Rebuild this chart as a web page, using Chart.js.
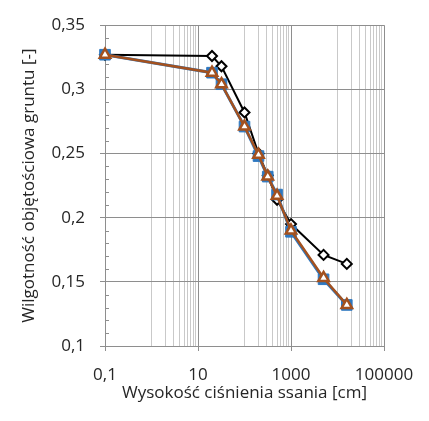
<!DOCTYPE html>
<html>
<head>
<meta charset="utf-8">
<script src="https://cdn.jsdelivr.net/npm/chart.js@4"></script>
<style>
html,body{margin:0;padding:0;background:#fff;}
#wrap{width:429px;height:421px;}
</style>
</head>
<body>
<div id="wrap"><canvas id="c" width="429" height="421"></canvas></div>
<script>
// Data
const pressureHeads = [0.1, 20, 32, 100, 200, 316, 501, 1000, 5012, 15849];
const blackSeries  = [0.327, 0.326, 0.318, 0.282, 0.250, 0.233, 0.214, 0.195, 0.171, 0.164];
const blueSeries   = [0.327, 0.313, 0.304, 0.271, 0.248, 0.232, 0.218, 0.189, 0.152, 0.132];
const orangeSeries = [0.327, 0.313, 0.304, 0.271, 0.249, 0.232, 0.217, 0.190, 0.153, 0.132];
const xLabelValues = [0.1, 10, 1000, 100000];
const xGridValues = [0.1,1,2,3,4,5,6,7,8,9,10,100,200,300,400,500,600,700,800,900,1000,10000,20000,30000,40000,50000,60000,70000,80000,90000,100000];
const yTickValues = [0.1, 0.15, 0.2, 0.25, 0.3, 0.35];
const yMinorValues = [0.11,0.12,0.13,0.14,0.16,0.17,0.18,0.19,0.21,0.22,0.23,0.24,0.26,0.27,0.28,0.29,0.31,0.32,0.33,0.34];

const FONT = '"Open Sans", Lato, sans-serif';
const MAJOR = '#8e8e8e';
const MINOR = '#c9c9c9';

function pts(ys){ return pressureHeads.map((x,i)=>({x:x, y:ys[i]})); }
function fmt(v){ return String(v).replace('.', ','); }
function isMajorX(v){ return xLabelValues.some(m => Math.abs(Math.log10(v) - Math.log10(m)) < 1e-6); }

const minorTicks = {
  id: 'minorTicks',
  beforeDatasetsDraw(chart){
    const ctx = chart.ctx, y = chart.scales.y, area = chart.chartArea;
    ctx.save();
    ctx.strokeStyle = MAJOR; ctx.lineWidth = 1;
    yMinorValues.forEach(v => {
      const py = Math.round(y.getPixelForValue(v)) + 0.5;
      ctx.beginPath(); ctx.moveTo(area.left, py); ctx.lineTo(area.left + 4, py); ctx.stroke();
    });
    ctx.restore();
  }
};

new Chart(document.getElementById('c'), {
  type: 'scatter',
  data: {
    datasets: [
      { data: pts(orangeSeries), showLine: true, borderColor: '#A3511F', borderWidth: 2.5,
        pointStyle: 'triangle', pointRadius: 6, pointBackgroundColor: '#ffffff', pointBorderColor: '#A3511F', pointBorderWidth: 2.5, clip: false, order: 1 },
      { data: pts(blueSeries), showLine: true, borderColor: '#2E78C0', borderWidth: 3,
        pointStyle: 'rect', pointRadius: 7.5, pointBackgroundColor: '#2E78C0', pointBorderColor: '#2E78C0', pointBorderWidth: 1, clip: false, order: 2 },
      { data: pts(blackSeries), showLine: true, borderColor: '#000000', borderWidth: 2,
        pointStyle: 'rectRot', pointRadius: 5, pointBackgroundColor: '#ffffff', pointBorderColor: '#000000', pointBorderWidth: 2, clip: false, order: 3 }
    ]
  },
  plugins: [minorTicks],
  options: {
    responsive: false,
    animation: false,
    devicePixelRatio: 1,
    layout: { padding: { left: 0, right: 45, top: 14, bottom: 18 } },
    plugins: { legend: { display: false }, tooltip: { enabled: false } },
    scales: {
      x: {
        type: 'logarithmic', min: 0.1, max: 100000,
        afterBuildTicks(scale){ scale.ticks = xGridValues.map(v => ({value: v, major: isMajorX(v)})); },
        afterFit(scale){ scale.height = 57; },
        border: { color: MAJOR, width: 1 },
        grid: {
          color: ctx => (ctx.tick && isMajorX(ctx.tick.value)) ? MAJOR : MINOR,
          tickColor: ctx => (ctx.tick && isMajorX(ctx.tick.value)) ? MAJOR : 'rgba(0,0,0,0)',
          tickLength: 5, lineWidth: 1
        },
        ticks: {
          autoSkip: false, maxRotation: 0, padding: 14,
          color: '#262626', font: { family: FONT, size: 17 },
          callback: (v) => isMajorX(v) ? fmt(v) : ''
        },
        title: { display: true, text: 'Wysokość ciśnienia ssania [cm]', color: '#262626',
          font: { family: FONT, size: 17 }, padding: { top: 0, bottom: 0 } }
      },
      y: {
        type: 'linear', min: 0.1, max: 0.35,
        afterBuildTicks(scale){ scale.ticks = yTickValues.map(v => ({value: v})); },
        afterFit(scale){ scale.width = 105; },
        border: { color: MAJOR, width: 1 },
        grid: { color: MAJOR, tickColor: MAJOR, tickLength: 5, lineWidth: 1 },
        ticks: { padding: 15, color: '#262626', font: { family: FONT, size: 17 },
          callback: v => fmt(Math.round(v*100)/100) },
        title: { display: true, text: 'Wilgotność objętościowa gruntu [-]', color: '#262626',
          font: { family: FONT, size: 17 }, padding: { top: 19, bottom: 0 } }
      }
    }
  }
});
</script>
</body>
</html>
